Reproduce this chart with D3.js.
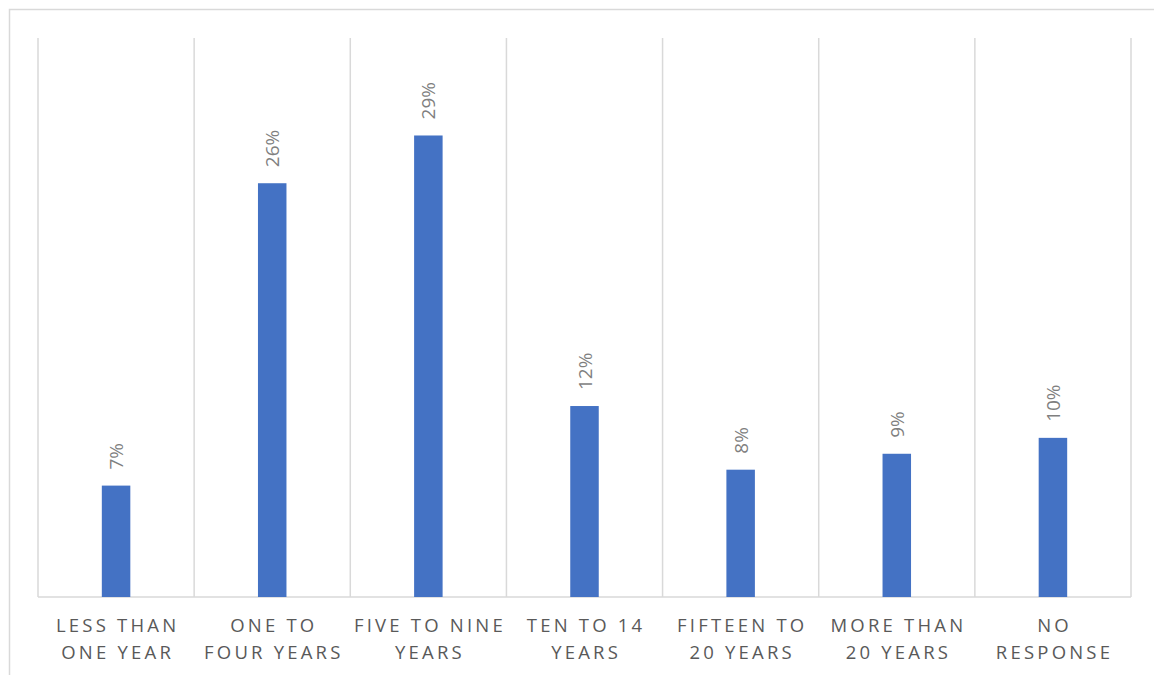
<!DOCTYPE html>
<html>
<head>
<meta charset="utf-8">
<script src="https://cdn.jsdelivr.net/npm/d3@7"></script>
<style>
  html, body { margin: 0; padding: 0; background: #fff; }
  svg { display: block; }
</style>
</head>
<body>
<svg id="chart" width="1154" height="675"></svg>
<script>
// Survey responses: length of time, share of respondents
const categories = [
  ["LESS THAN", "ONE YEAR"],
  ["ONE TO", "FOUR YEARS"],
  ["FIVE TO NINE", "YEARS"],
  ["TEN TO 14", "YEARS"],
  ["FIFTEEN TO", "20 YEARS"],
  ["MORE THAN", "20 YEARS"],
  ["NO", "RESPONSE"]
];
const values = [0.07, 0.26, 0.29, 0.12, 0.08, 0.09, 0.10];
const valueLabels = ["7%", "26%", "29%", "12%", "8%", "9%", "10%"];

const W = 1154, H = 675;
const margin = { top: 38, right: 22, bottom: 78, left: 38 };
const svg = d3.select("#chart");

// chart area border
svg.append("rect")
  .attr("x", 9.5).attr("y", 9.5)
  .attr("width", W).attr("height", H)
  .attr("fill", "none")
  .attr("stroke", "#d9d9d9")
  .attr("stroke-width", 1.5);

const keys = categories.map((c, i) => i);
const x = d3.scaleBand()
  .domain(keys)
  .range([margin.left, W - margin.right - 1])
  .paddingInner(0).paddingOuter(0);

const y = d3.scaleLinear()
  .domain([0, 0.35])
  .range([H - margin.bottom, margin.top + 2]);

const baseY = y(0);

// vertical separators between categories
const seps = keys.map(k => x(k)).concat([x(keys[keys.length - 1]) + x.bandwidth()]);
svg.append("g").selectAll("line")
  .data(seps)
  .join("line")
  .attr("x1", d => d).attr("x2", d => d)
  .attr("y1", margin.top).attr("y2", baseY)
  .attr("stroke", "#d9d9d9")
  .attr("stroke-width", 1.5);

// baseline
svg.append("line")
  .attr("x1", seps[0]).attr("x2", seps[seps.length - 1])
  .attr("y1", baseY).attr("y2", baseY)
  .attr("stroke", "#d9d9d9")
  .attr("stroke-width", 1.5);

const barW = 28.5;
svg.append("g").selectAll("rect")
  .data(values)
  .join("rect")
  .attr("x", (d, i) => x(i) + x.bandwidth() / 2 - barW / 2)
  .attr("y", d => y(d))
  .attr("width", barW)
  .attr("height", d => baseY - y(d))
  .attr("fill", "#4472c4");

// rotated value labels
svg.append("g").selectAll("text")
  .data(values)
  .join("text")
  .attr("transform", (d, i) => `translate(${x(i) + x.bandwidth() / 2},${y(d) - 16}) rotate(-90)`)
  .attr("text-anchor", "start")
  .attr("dominant-baseline", "central")
  .attr("font-family", "'Open Sans', sans-serif")
  .attr("font-size", 19)
  .attr("fill", "#7f7f7f")
  .text((d, i) => valueLabels[i]);

// category labels, two lines each
const lab = svg.append("g").selectAll("text")
  .data(categories)
  .join("text")
  .attr("x", (d, i) => x(i) + x.bandwidth() / 2)
  .attr("y", 632)
  .attr("text-anchor", "middle")
  .attr("font-family", "'Open Sans', sans-serif")
  .attr("font-size", 18.5)
  .attr("letter-spacing", 3.2)
  .attr("fill", "#595959");
lab.selectAll("tspan")
  .data((d, i) => d.map(t => ({ t, i })))
  .join("tspan")
  .attr("x", d => x(d.i) + x.bandwidth() / 2 + 1.6)
  .attr("dy", (d, j) => j === 0 ? 0 : 27)
  .text(d => d.t);
</script>
</body>
</html>
